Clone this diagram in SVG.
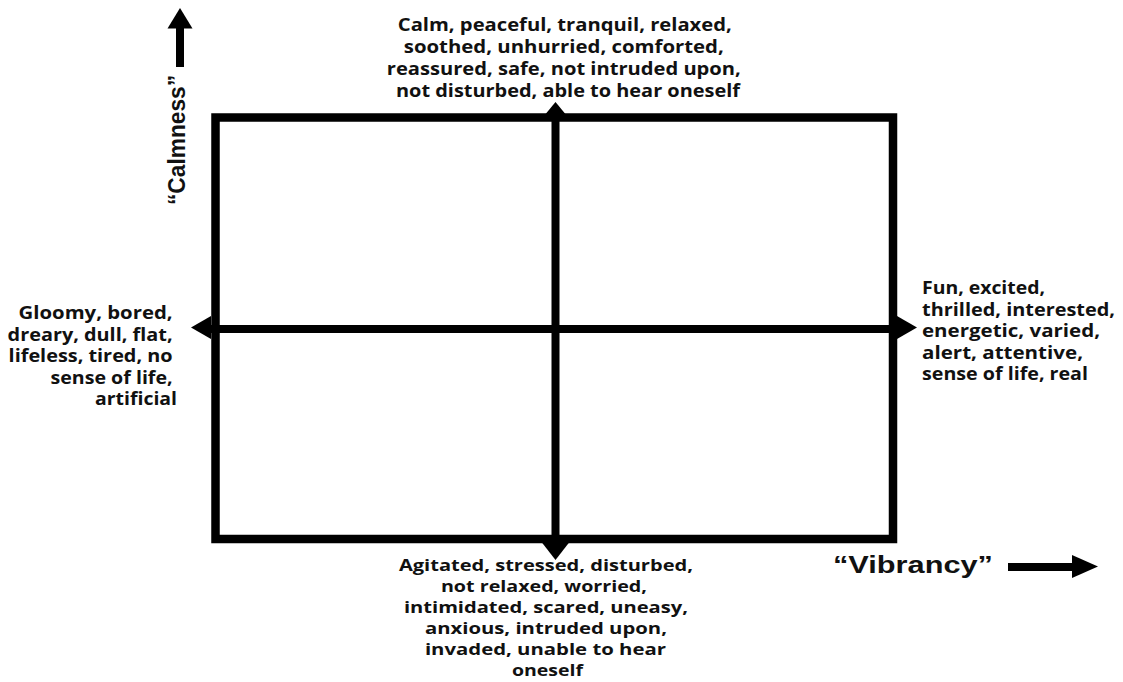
<svg xmlns="http://www.w3.org/2000/svg" width="1123" height="682" viewBox="0 0 1123 682">
<style>
.bg{fill:#ffffff}
.frame{fill:none;stroke:#000;stroke-width:8.5;stroke-linejoin:miter}
.axis{stroke:#000;stroke-width:8;fill:none}
.head{fill:#000;stroke:none}
.lbl{font-family:"Open Sans","Noto Sans","DejaVu Sans",sans-serif;font-weight:700;font-size:17px;fill:#111}
.lbl.sm{font-size:16px}
.ax{font-family:"Liberation Sans",Arial,sans-serif;font-weight:700;font-size:24px;fill:#111}
</style>
<rect class="bg" x="0" y="0" width="1123" height="682"/>
<g id="frame">
<rect class="frame" x="215.5" y="117.5" width="677.5" height="421.5"/>
</g>
<g id="connectors">
<line class="axis" x1="555.5" y1="116" x2="555.5" y2="545"/>
<polygon class="head" points="555.5,102 541.5,119 569.5,119"/>
<polygon class="head" points="555.5,560 541.5,542 569.5,542"/>
<line class="axis" x1="208" y1="329" x2="900" y2="329"/>
<polygon class="head" points="191,327.5 211,316 211,339"/>
<polygon class="head" points="917,327.5 897,316 897,339"/>
<line class="axis" x1="180" y1="26" x2="180" y2="67"/>
<polygon class="head" points="180,8 167.5,28.5 192.5,28.5"/>
<line class="axis" x1="1008" y1="567" x2="1075" y2="567"/>
<polygon class="head" points="1098,566.5 1072,555 1072,578"/>
</g>
<g id="calmness-label">
<text class="ax" transform="translate(185,140) rotate(-90)" text-anchor="middle" textLength="130" lengthAdjust="spacingAndGlyphs">“Calmness”</text>
</g>
<g id="vibrancy-label">
<text class="ax" x="833" y="573" textLength="160" lengthAdjust="spacingAndGlyphs">“Vibrancy”</text>
</g>
<g id="top-node">
<text class="lbl" text-anchor="middle">
<tspan x="567" y="31" textLength="334" lengthAdjust="spacingAndGlyphs">Calm, peaceful, tranquil, relaxed,</tspan>
<tspan x="566" y="53" textLength="320" lengthAdjust="spacingAndGlyphs">soothed, unhurried, comforted,</tspan>
<tspan x="566" y="75" textLength="354" lengthAdjust="spacingAndGlyphs">reassured, safe, not intruded upon,</tspan>
<tspan x="568" y="97" textLength="344" lengthAdjust="spacingAndGlyphs">not disturbed, able to hear oneself</tspan>
</text>
</g>
<g id="bottom-node">
<text class="lbl sm" text-anchor="middle">
<tspan x="548" y="571" textLength="294" lengthAdjust="spacingAndGlyphs">Agitated, stressed, disturbed,</tspan>
<tspan x="546" y="592" textLength="206" lengthAdjust="spacingAndGlyphs">not relaxed, worried,</tspan>
<tspan x="548" y="613" textLength="284" lengthAdjust="spacingAndGlyphs">intimidated, scared, uneasy,</tspan>
<tspan x="548" y="634" textLength="242" lengthAdjust="spacingAndGlyphs">anxious, intruded upon,</tspan>
<tspan x="547.5" y="655" textLength="241" lengthAdjust="spacingAndGlyphs">invaded, unable to hear</tspan>
<tspan x="547.5" y="676" textLength="71" lengthAdjust="spacingAndGlyphs">oneself</tspan>
</text>
</g>
<g id="left-node">
<text class="lbl" text-anchor="end">
<tspan x="177" y="319" textLength="154" lengthAdjust="spacingAndGlyphs">Gloomy, bored,</tspan>
<tspan x="177" y="340.5" textLength="165" lengthAdjust="spacingAndGlyphs">dreary, dull, flat,</tspan>
<tspan x="177" y="362" textLength="164" lengthAdjust="spacingAndGlyphs">lifeless, tired, no</tspan>
<tspan x="177" y="383.5" textLength="122" lengthAdjust="spacingAndGlyphs">sense of life,</tspan>
<tspan x="177" y="405" textLength="82" lengthAdjust="spacingAndGlyphs">artificial</tspan>
</text>
</g>
<g id="right-node">
<text class="lbl" text-anchor="start">
<tspan x="922" y="294" textLength="123" lengthAdjust="spacingAndGlyphs">Fun, excited,</tspan>
<tspan x="922" y="315.5" textLength="193" lengthAdjust="spacingAndGlyphs">thrilled, interested,</tspan>
<tspan x="922" y="337" textLength="178" lengthAdjust="spacingAndGlyphs">energetic, varied,</tspan>
<tspan x="922" y="358.5" textLength="161" lengthAdjust="spacingAndGlyphs">alert, attentive,</tspan>
<tspan x="922" y="380" textLength="166" lengthAdjust="spacingAndGlyphs">sense of life, real</tspan>
</text>
</g>
</svg>
